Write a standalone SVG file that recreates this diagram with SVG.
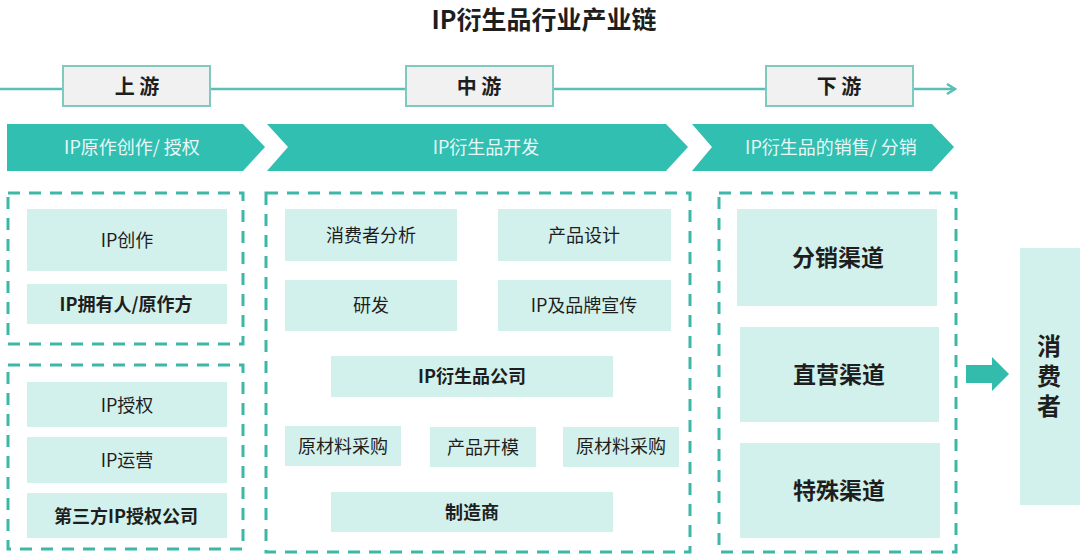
<svg xmlns="http://www.w3.org/2000/svg" width="1080" height="556" viewBox="0 0 1080 556">
<defs>
<style>
text{font-family:"Noto Sans CJK SC","Liberation Sans",sans-serif;fill:#1e1e1e;text-anchor:middle;dominant-baseline:central}
.stage{fill:#f1f1f1;stroke:#7fc9c1;stroke-width:2}
.stg{font-size:20px;font-weight:bold}
.band{fill:#30bfb1}
.bt{font-size:18px;fill:#e9f8f6}
.dash{fill:none;stroke:#3db7a8;stroke-width:3;stroke-dasharray:12 9}
.cell{fill:#d3f1ec}
.n{font-size:18px}
.b{font-size:18px;font-weight:bold}
.big{font-size:23px;font-weight:bold}
.vert{font-size:24px;font-weight:bold;writing-mode:vertical-rl;letter-spacing:6px}
</style>
<marker id="ah" markerWidth="12" markerHeight="12" refX="10" refY="6" orient="auto" markerUnits="userSpaceOnUse">
<path d="M2,1 L10,6 L2,11" fill="none" stroke="#5bbfb5" stroke-width="2.5"/>
</marker>
</defs>
<rect width="1080" height="556" fill="#ffffff"/>
<text x="544" y="18" style="font-size:25px;font-weight:bold">IP衍生品行业产业链</text>

<g id="connectors">
<line x1="0" y1="89" x2="955" y2="89" stroke="#5bbfb5" stroke-width="2.5" marker-end="url(#ah)"/>
<polygon points="966,365 992,365 992,357 1009,374 992,391 992,383 966,383" fill="#33bbac"/>
</g>

<g id="stage-up"><rect class="stage" x="63" y="66" width="147" height="40"/><text class="stg" x="137" y="85">上 游</text></g>
<g id="stage-mid"><rect class="stage" x="406" y="66" width="147" height="40"/><text class="stg" x="479" y="85">中 游</text></g>
<g id="stage-down"><rect class="stage" x="766" y="66" width="147" height="40"/><text class="stg" x="839" y="85">下 游</text></g>

<g id="band-1"><polygon class="band" points="7,124 243,124 265,147 243,171 7,171"/><text class="bt" x="132" y="146">IP原作创作/ 授权</text></g>
<g id="band-2"><polygon class="band" points="267,124 666,124 688,147 666,171 267,171 288,147"/><text class="bt" x="486" y="146">IP衍生品开发</text></g>
<g id="band-3"><polygon class="band" points="692,124 932,124 954,147 932,171 692,171 712,147"/><text class="bt" x="831" y="146">IP衍生品的销售/ 分销</text></g>

<g id="group-creation">
<rect class="dash" x="8" y="193" width="235" height="151"/>
<g id="ip-create"><rect class="cell" x="27" y="209" width="200" height="62"/><text class="n" x="127" y="239">IP创作</text></g>
<g id="ip-owner"><rect class="cell" x="27" y="284" width="200" height="40"/><text class="b" x="126" y="303">IP拥有人/原作方</text></g>
</g>

<g id="group-license">
<rect class="dash" x="8" y="365" width="235" height="184"/>
<g id="ip-license"><rect class="cell" x="27" y="382" width="200" height="45"/><text class="n" x="127" y="404">IP授权</text></g>
<g id="ip-ops"><rect class="cell" x="27" y="437" width="200" height="46"/><text class="n" x="127" y="459">IP运营</text></g>
<g id="third-party"><rect class="cell" x="27" y="493" width="200" height="45"/><text class="b" x="126" y="515">第三方IP授权公司</text></g>
</g>

<g id="group-dev">
<rect class="dash" x="266" y="193" width="424" height="359"/>
<g id="consumer-analysis"><rect class="cell" x="285" y="209" width="172" height="52"/><text class="n" x="371" y="234">消费者分析</text></g>
<g id="product-design"><rect class="cell" x="498" y="209" width="173" height="52"/><text class="n" x="584" y="234">产品设计</text></g>
<g id="rnd"><rect class="cell" x="285" y="280" width="172" height="51"/><text class="n" x="371" y="304">研发</text></g>
<g id="brand-promo"><rect class="cell" x="498" y="280" width="173" height="51"/><text class="n" x="584" y="304">IP及品牌宣传</text></g>
<g id="derivative-company"><rect class="cell" x="331" y="356" width="282" height="41"/><text class="b" x="472" y="375">IP衍生品公司</text></g>
<g id="material-1"><rect class="cell" x="285" y="426" width="116" height="40"/><text class="n" x="343" y="445">原材料采购</text></g>
<g id="mold"><rect class="cell" x="430" y="427" width="106" height="40"/><text class="n" x="483" y="446">产品开模</text></g>
<g id="material-2"><rect class="cell" x="563" y="427" width="116" height="40"/><text class="n" x="621" y="445">原材料采购</text></g>
<g id="manufacturer"><rect class="cell" x="331" y="492" width="282" height="40"/><text class="b" x="472" y="511">制造商</text></g>
</g>

<g id="group-sales">
<rect class="dash" x="719" y="193" width="237" height="359"/>
<g id="distribution"><rect class="cell" x="737" y="209" width="200" height="97"/><text class="big" x="838" y="256">分销渠道</text></g>
<g id="direct"><rect class="cell" x="740" y="327" width="199" height="95"/><text class="big" x="839" y="373">直营渠道</text></g>
<g id="special"><rect class="cell" x="740" y="443" width="200" height="95"/><text class="big" x="839" y="489">特殊渠道</text></g>
</g>

<g id="consumer">
<rect class="cell" x="1020" y="248" width="60" height="257"/>
<text class="vert" x="1049" y="379">消费者</text>
</g>
</svg>
